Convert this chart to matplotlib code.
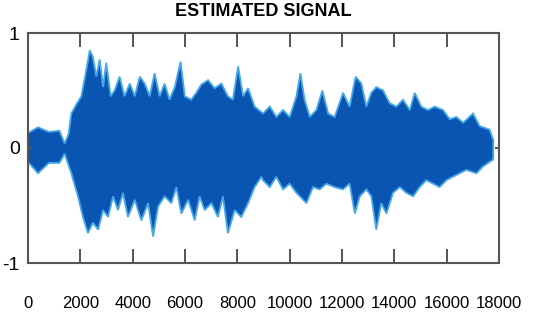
import matplotlib
matplotlib.use("Agg")
import matplotlib.pyplot as plt

# envolvente de la senal estimada
x_sup = [0, 380, 800, 1200, 1400, 1550, 1656, 1850, 2040, 2230, 2360, 2480,
         2610, 2740, 2870, 2990, 3160, 3310, 3500, 3690, 3890, 4080, 4270,
         4460, 4650, 4840, 5030, 5220, 5410, 5610, 5830, 5990, 6240, 6430,
         6620, 6880, 7130, 7390, 7640, 7830, 8030, 8220, 8410, 8660, 8980,
         9240, 9490, 9750, 10000, 10260, 10410, 10570, 10770, 11020, 11250,
         11470, 11720, 12040, 12290, 12520, 12740, 12930, 13120, 13310, 13570,
         13820, 14080, 14330, 14590, 14780, 15030, 15290, 15540, 15860, 16120,
         16370, 16630, 17010, 17260, 17640, 17780]
y_sup = [0.13, 0.18, 0.14, 0.15, 0.04, 0.12, 0.30, 0.38, 0.45, 0.68, 0.85,
         0.79, 0.62, 0.77, 0.53, 0.74, 0.45, 0.50, 0.62, 0.45, 0.56, 0.45,
         0.62, 0.56, 0.45, 0.65, 0.45, 0.56, 0.42, 0.53, 0.75, 0.45, 0.42,
         0.48, 0.55, 0.59, 0.52, 0.56, 0.45, 0.42, 0.71, 0.45, 0.52, 0.36,
         0.30, 0.36, 0.27, 0.33, 0.27, 0.45, 0.65, 0.42, 0.27, 0.33, 0.50,
         0.30, 0.27, 0.48, 0.36, 0.62, 0.56, 0.36, 0.48, 0.53, 0.50, 0.39,
         0.36, 0.42, 0.33, 0.48, 0.36, 0.33, 0.36, 0.33, 0.25, 0.27, 0.22,
         0.30, 0.19, 0.16, 0.07]
x_inf = [0, 380, 800, 1200, 1400, 1656, 1910, 2100, 2290, 2480, 2680, 2870,
         3060, 3250, 3440, 3630, 3820, 4080, 4330, 4590, 4780, 4970, 5220,
         5480, 5670, 5860, 6120, 6370, 6560, 6750, 7010, 7260, 7450, 7640,
         7900, 8150, 8410, 8660, 8920, 8980, 9240, 9490, 9750, 10000, 10260,
         10640, 10890, 11150, 11400, 11720, 12040, 12290, 12490, 12680,
         12930, 13120, 13310, 13500, 13700, 13950, 14210, 14460, 14720,
         14970, 15220, 15480, 15730, 15990, 16240, 16500, 16750, 17140,
         17390, 17780]
y_inf = [-0.12, -0.22, -0.13, -0.13, -0.05, -0.22, -0.42, -0.60, -0.74,
         -0.65, -0.71, -0.54, -0.60, -0.42, -0.54, -0.39, -0.60, -0.45,
         -0.63, -0.48, -0.77, -0.51, -0.42, -0.48, -0.34, -0.57, -0.45,
         -0.63, -0.42, -0.54, -0.48, -0.60, -0.42, -0.74, -0.54, -0.60,
         -0.48, -0.34, -0.25, -0.28, -0.34, -0.25, -0.36, -0.31, -0.39,
         -0.48, -0.34, -0.36, -0.31, -0.34, -0.36, -0.31, -0.57, -0.42,
         -0.36, -0.42, -0.71, -0.48, -0.57, -0.39, -0.34, -0.39, -0.42,
         -0.34, -0.28, -0.31, -0.34, -0.28, -0.25, -0.22, -0.19, -0.22,
         -0.16, -0.10]

xticks = list(range(0, 18001, 2000))
yticks = [-1, 0, 1]

fig = plt.figure(figsize=(5.43, 3.2), dpi=100)
ax = fig.add_axes([28 / 543, 57 / 320, 471 / 543, 230 / 320])

poly_x = x_sup + x_inf[::-1]
poly_y = y_sup + y_inf[::-1]
ax.fill(poly_x, poly_y, facecolor='#0b55b2', edgecolor='#45a8e8', lw=1.3)

ax.set_xlim(0, 18000)
ax.set_ylim(-1, 1)
ax.set_xticks(xticks)
ax.set_yticks(yticks)
ax.set_xticklabels([str(t) for t in xticks], family='Liberation Sans', fontsize=12)
ax.set_yticklabels([str(t) for t in yticks], family='Liberation Sans', fontsize=14)
ax.tick_params(axis='x', direction='in', length=10, width=1.4, color='#555555',
               top=True, pad=24)
ax.tick_params(axis='y', direction='in', length=3, width=1.4, color='#555555',
               right=True, pad=6)
for s in ax.spines.values():
    s.set_color('#555555')
    s.set_linewidth(1.5)

fig.text(263 / 543, 1 - 16 / 320, 'ESTIMATED SIGNAL', family='Liberation Sans',
         fontweight='bold', fontsize=13, ha='center', va='baseline')

plt.savefig('out.png', dpi=100)
